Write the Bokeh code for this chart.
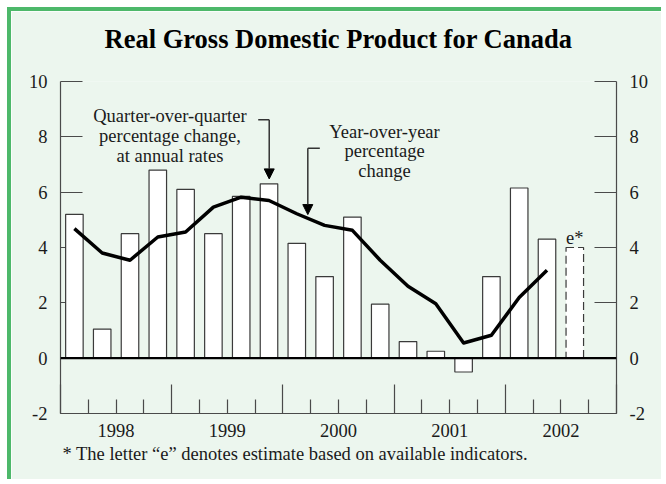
from bokeh.plotting import figure
from bokeh.models import (Range1d, LinearAxis, FixedTicker, Span, Label, Arrow, Title,
                          NormalHead, ColumnDataSource, CustomJSTickFormatter)
from bokeh.embed import file_html
from bokeh.resources import INLINE

# ---------------- data ----------------
quarters = ["1998Q1", "1998Q2", "1998Q3", "1998Q4",
            "1999Q1", "1999Q2", "1999Q3", "1999Q4",
            "2000Q1", "2000Q2", "2000Q3", "2000Q4",
            "2001Q1", "2001Q2", "2001Q3", "2001Q4",
            "2002Q1", "2002Q2"]
qoq_change = [5.2, 1.05, 4.5, 6.8, 6.1, 4.5, 5.85, 6.3, 4.15, 2.95,
              5.1, 1.95, 0.6, 0.25, -0.5, 2.95, 6.15, 4.3]
yoy_change = [4.68, 3.80, 3.54, 4.38, 4.56, 5.46, 5.82, 5.70, 5.22, 4.80,
              4.62, 3.54, 2.60, 1.97, 0.55, 0.83, 2.19, 3.18]
estimate_quarter = "2002Q3"
estimate_value = 4.0
years = [1998, 1999, 2000, 2001, 2002]
y_ticks = [-2, 0, 2, 4, 6, 8, 10]

title_text = "Real Gross Domestic Product for Canada"
qoq_label = ["Quarter-over-quarter", "percentage change,", "at annual rates"]
yoy_label = ["Year-over-year", "percentage", "change"]
footnote = "* The letter \u201ce\u201d denotes estimate based on available indicators."


def qpos(q):
    return int(q[:4]) + (int(q[5]) - 0.5) / 4.0


xs = [qpos(q) for q in quarters]
x_est = qpos(estimate_quarter)

# ---------------- style ----------------
FONT = "Liberation Serif"
FS = "18.5px"
BG = "#ECF6EE"
GREEN = "#4DB86A"
TICK = "#4a4a4a"
TXT = "#1a1a1a"
BAR_W = 0.1575

p = figure(width=654, height=472,
           x_range=Range1d(years[0], years[-1] + 1), y_range=Range1d(y_ticks[0], y_ticks[-1]),
           output_backend="svg", toolbar_location=None,
           x_axis_type=None, y_axis_type=None, title=None,
           min_border_left=49, min_border_right=49, min_border_top=70, min_border_bottom=70)
p.background_fill_color = BG
p.border_fill_color = BG
p.outline_line_color = None
p.xgrid.visible = False
p.ygrid.visible = False
p.styles = {"margin-top": "7px", "margin-left": "7px",
            "border-top": "4px solid " + GREEN, "border-left": "4px solid " + GREEN}

plain = CustomJSTickFormatter(code="return tick.toString();")
blank = CustomJSTickFormatter(code="return '';")


def y_axis():
    return LinearAxis(ticker=FixedTicker(ticks=y_ticks, minor_ticks=[]), formatter=plain,
                      major_tick_in=22, major_tick_out=0, minor_tick_in=0, minor_tick_out=0,
                      axis_line_color=TICK, major_tick_line_color=TICK, axis_line_width=1.2,
                      major_tick_line_width=1.2,
                      major_label_text_font=FONT, major_label_text_font_size=FS,
                      major_label_text_color=TXT, major_label_standoff=13)


p.add_layout(y_axis(), "left")
p.add_layout(y_axis(), "right")

boundaries = years + [years[-1] + 1]
quarter_ticks = [y + k / 4.0 for y in years for k in (1, 2, 3)]
xa = LinearAxis(ticker=FixedTicker(ticks=boundaries, minor_ticks=quarter_ticks),
                formatter=blank,
                major_tick_in=29, major_tick_out=0, minor_tick_in=14, minor_tick_out=0,
                axis_line_color=TICK, major_tick_line_color=TICK, minor_tick_line_color=TICK,
                axis_line_width=1.2, major_tick_line_width=1.2, minor_tick_line_width=1.2,
                major_label_text_font=FONT, major_label_text_font_size="18px",
                major_label_standoff=0)
p.add_layout(xa, "below")

xl = LinearAxis(ticker=FixedTicker(ticks=[y + 0.5 for y in years], minor_ticks=[]),
                formatter=CustomJSTickFormatter(code="return Math.floor(tick).toString();"),
                axis_line_color=None, major_tick_line_color=None, minor_tick_line_color=None,
                major_tick_in=0, major_tick_out=0,
                major_label_text_font=FONT, major_label_text_font_size=FS,
                major_label_text_color=TXT, major_label_standoff=10)
p.add_layout(xl, "below")

p.add_layout(Title(text=footnote, align="left", offset=2, text_font=FONT,
                   text_font_size=FS, text_font_style="normal", text_color=TXT,
                   standoff=4), "below")

# spacer between the frame and the title (tick drawn in the background colour)
spacer = LinearAxis(ticker=FixedTicker(ticks=[years[0]], minor_ticks=[]), formatter=blank,
                    major_tick_in=0, major_tick_out=22, minor_tick_in=0, minor_tick_out=0,
                    axis_line_color=None, major_tick_line_color=BG, major_tick_line_width=1,
                    minor_tick_line_color=None, major_label_standoff=0,
                    major_label_text_font_size="10px")
p.add_layout(spacer, "above")
p.add_layout(Title(text=title_text, align="center", text_font=FONT,
                   text_font_size="26.5px", text_font_style="bold", text_color="black",
                   vertical_align="middle", standoff=10), "above")

src = ColumnDataSource(dict(x=xs, qoq=qoq_change, yoy=yoy_change))
p.vbar(x="x", top="qoq", bottom=0, width=BAR_W, source=src,
       fill_color="white", line_color="#3a3a3a", line_width=1.2, level="annotation")
p.vbar(x=[x_est], top=[estimate_value], bottom=0, width=BAR_W,
       fill_color="white", line_color="#3a3a3a", line_width=1.2, line_dash="8 4",
       level="annotation")
p.line(x="x", y="yoy", source=src, line_color="black", line_width=3.5,
       line_join="round", level="overlay")

p.add_layout(Span(location=0, dimension="width", line_color="black", line_width=2.2,
                  level="overlay"))

# annotations
for txt, yy in zip(qoq_label, [8.77, 8.03, 7.29]):
    p.add_layout(Label(x=1998.984, y=yy, text=txt, text_align="center",
                       text_baseline="alphabetic", text_font=FONT, text_font_size=FS,
                       text_color=TXT, level="overlay"))
for txt, yy in zip(yoy_label, [8.17, 7.47, 6.77]):
    p.add_layout(Label(x=2000.914, y=yy, text=txt, text_align="center",
                       text_baseline="alphabetic", text_font=FONT, text_font_size=FS,
                       text_color=TXT, level="overlay"))
p.add_layout(Label(x=x_est, y=estimate_value, y_offset=10, text="e*", text_align="center",
                   text_baseline="alphabetic", text_font=FONT, text_font_size=FS,
                   text_color=TXT, level="overlay"))

ARW = "#333333"
# arrow 1 (quarter-over-quarter)
p.add_layout(Arrow(end=None, x_start=1999.778, y_start=8.62, x_end=1999.877, y_end=8.62,
                   line_color=ARW, line_width=1.5, level="overlay"))
p.add_layout(Arrow(end=NormalHead(size=10, fill_color="black", line_color="black"),
                   x_start=1999.877, y_start=8.62, x_end=1999.877, y_end=6.48,
                   line_color=ARW, line_width=1.5, level="overlay"))
# arrow 2 (year-over-year)
p.add_layout(Arrow(end=None, x_start=2000.332, y_start=7.59, x_end=2000.224, y_end=7.59,
                   line_color=ARW, line_width=1.5, level="overlay"))
p.add_layout(Arrow(end=NormalHead(size=10, fill_color="black", line_color="black"),
                   x_start=2000.224, y_start=7.59, x_end=2000.224, y_end=5.19,
                   line_color=ARW, line_width=1.5, level="overlay"))

open("out.html", "w").write(file_html(p, INLINE))
